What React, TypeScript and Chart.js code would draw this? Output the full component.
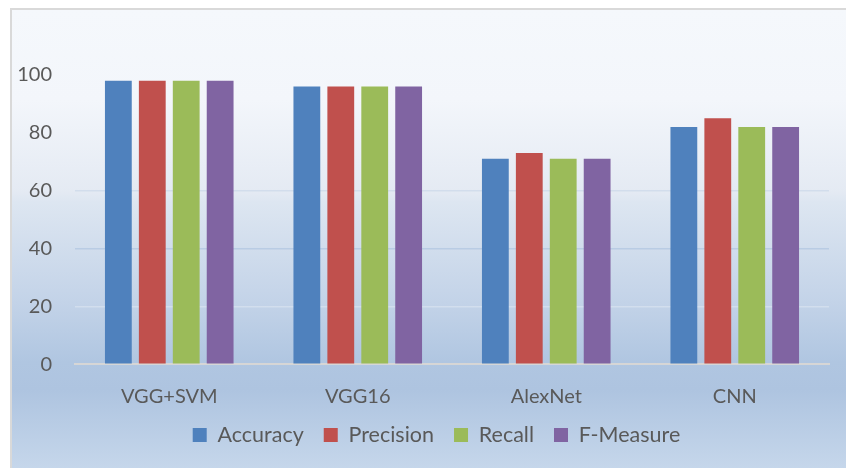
import React, { useEffect, useRef } from 'react';
import { Chart, registerables } from 'chart.js';

Chart.register(...registerables);

const categories = ['VGG+SVM', 'VGG16', 'AlexNet', 'CNN'];
const seriesNames = ['Accuracy', 'Precision', 'Recall', 'F-Measure'];
const accuracy = [98, 96, 71, 82];
const precision = [98, 96, 73, 85];
const recall = [98, 96, 71, 82];
const fMeasure = [98, 96, 71, 82];
const yTickMin = 0;
const yTickMax = 120;
const yTickStep = 20;
const seriesColors = ['#4f81bd', '#c0504d', '#9bbb59', '#8064a2'];

const FONT = 'Lato, "Open Sans", sans-serif';
const TEXT = '#595959';

const gridColorFor = (v: number) => {
  if (v === 60) return '#d2ddec';
  if (v === 40) return '#b9cce4';
  if (v === 20) return 'rgba(255,255,255,0.28)';
  return 'rgba(0,0,0,0)';
};

const legendShift = {
  id: 'legendShift',
  afterLayout(chart: any) {
    if (chart.legend) {
      chart.legend.left += 22;
      chart.legend.right += 22;
    }
  },
};

export default function App() {
  const ref = useRef<HTMLCanvasElement | null>(null);

  useEffect(() => {
    if (!ref.current) return;
    const values = [accuracy, precision, recall, fMeasure];
    const chart = new Chart(ref.current, {
      type: 'bar',
      data: {
        labels: categories,
        datasets: seriesNames.map((name, i) => ({
          label: name,
          data: values[i],
          backgroundColor: seriesColors[i],
          borderWidth: 0,
          categoryPercentage: 0.72,
          barPercentage: 0.79,
        })),
      },
      plugins: [legendShift],
      options: {
        responsive: false,
        animation: false,
        devicePixelRatio: 1,
        layout: { padding: { left: 0, right: 17, top: 17, bottom: 12.25 } },
        plugins: {
          tooltip: { enabled: false },
          title: { display: false },
          legend: {
            position: 'bottom',
            labels: {
              color: TEXT,
              font: { family: FONT, size: 21.5 },
              boxWidth: 14,
              boxHeight: 14,
              padding: 20,
            },
          },
        },
        scales: {
          x: {
            grid: { display: false, drawTicks: false },
            border: { display: true, color: '#d6d6d6', width: 2 },
            ticks: { color: TEXT, font: { family: FONT, size: 20, lineHeight: 0.8 }, padding: 24 },
            afterFit: (s: any) => { s.height = 40; },
          },
          y: {
            min: yTickMin,
            max: yTickMax,
            grid: {
              drawTicks: false,
              color: (c: any) => (c.tick ? gridColorFor(c.tick.value) : 'rgba(0,0,0,0)'),
              lineWidth: 1.5,
            },
            border: { display: false },
            ticks: {
              stepSize: yTickStep,
              color: TEXT,
              font: { family: FONT, size: 20 },
              padding: 23,
              callback: (v: any) => (v === yTickMax ? '' : String(v)),
            },
            afterFit: (s: any) => {
              s.width = 75;
              s.paddingTop = 0;
              s.paddingBottom = 0;
            },
          },
        },
      },
    });
    return () => chart.destroy();
  }, []);

  return (
    <div style={{ position: 'fixed', left: 0, top: 0, width: 846, height: 468, background: '#ffffff', overflow: 'hidden' }}>
      <div
        style={{
          position: 'absolute',
          left: 10,
          top: 8,
          width: 846,
          height: 470,
          borderLeft: '2px solid #d9d9d9',
          borderTop: '2px solid #d9d9d9',
          background:
            'linear-gradient(to bottom, #f5f8fc 0px, #f3f6fb 90px, #e4eaf3 182px, #dde6f1 192px, #c3d3e8 292px, #b0c6e1 352px, #aec4e0 380px, #c6d7eb 460px)',
        }}
      />
      <canvas ref={ref} width={846} height={468} style={{ position: 'absolute', left: 0, top: 0, width: 846, height: 468 }} />
    </div>
  );
}
